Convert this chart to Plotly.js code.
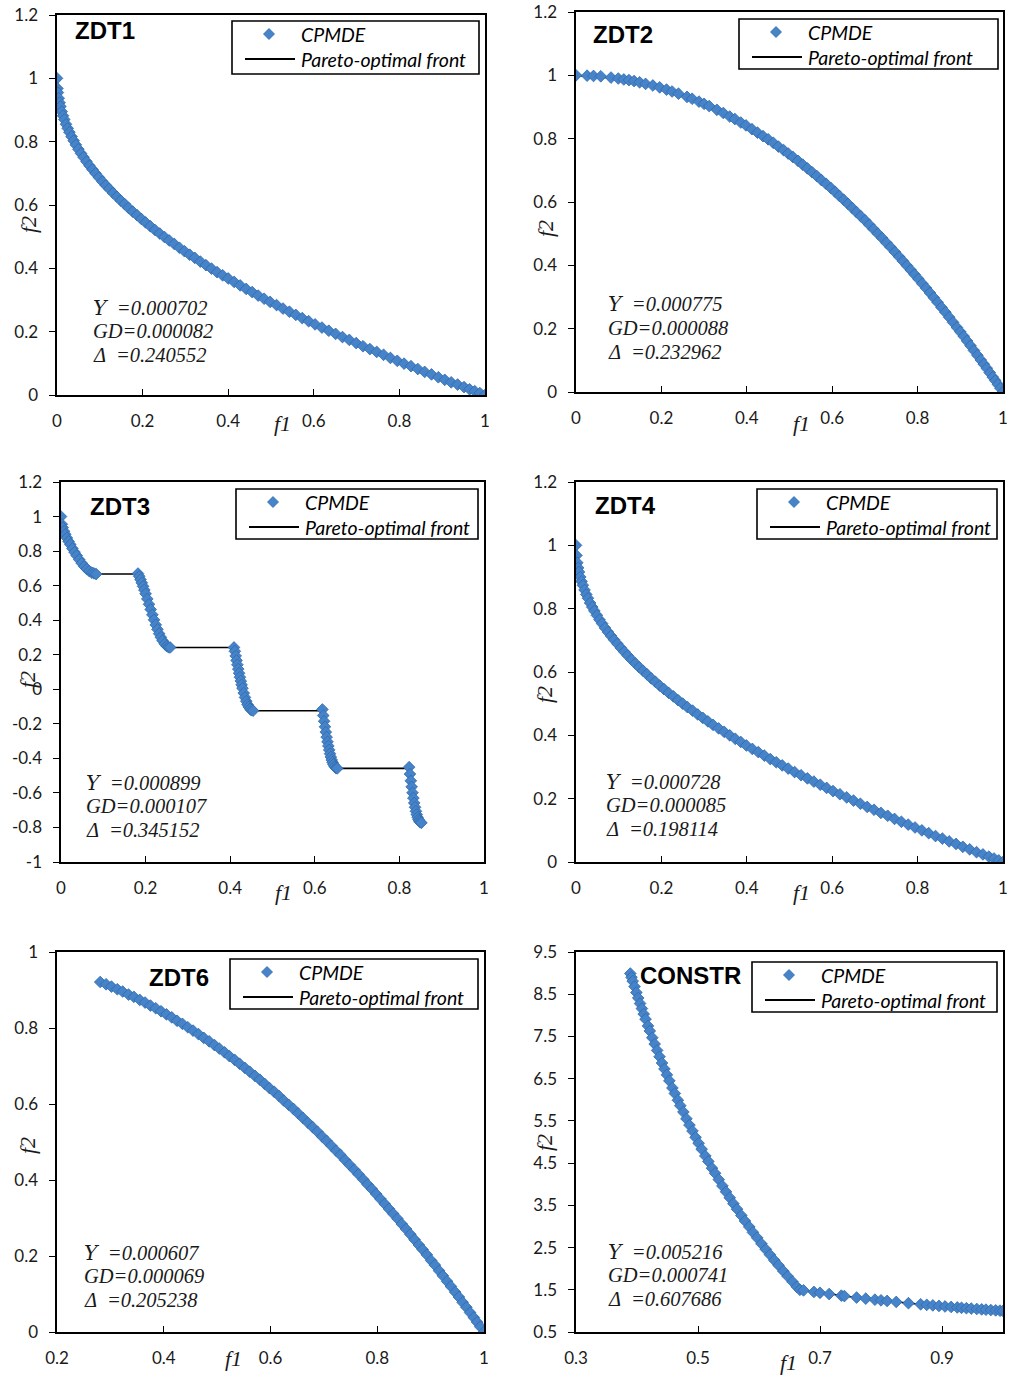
<!DOCTYPE html>
<html>
<head>
<meta charset="utf-8">
<script src="https://cdn.plot.ly/plotly-3.0.1.min.js"></script>
<style>html,body{margin:0;padding:0;background:#fff;}#chart{width:1010px;height:1376px;}</style>
</head>
<body>
<div id="chart"></div>
<script>
// ---------------- DATA ----------------
const panelNames = ["ZDT1", "ZDT2", "ZDT3", "ZDT4", "ZDT6", "CONSTR"];
const legendLabels = ["CPMDE", "Pareto-optimal front"];
const statsLabels = ['<span style="font-family:\'DejaVu Serif\'">Υ</span>  =', "GD=", "Δ  ="];
const statsText = [
  ["0.000702", "0.000082", "0.240552"],
  ["0.000775", "0.000088", "0.232962"],
  ["0.000899", "0.000107", "0.345152"],
  ["0.000728", "0.000085", "0.198114"],
  ["0.000607", "0.000069", "0.205238"],
  ["0.005216", "0.000741", "0.607686"]
];

// ZDT1
const zdt1_f1 = [0,0.001,0.002,0.004,0.006,0.008,0.011,0.014,0.017,0.021,0.025,0.029,0.034,0.039,0.044,0.05,0.056,0.062,0.069,0.076,0.083,0.09,0.098,0.106,0.114,0.122,0.131,0.14,0.149,0.158,0.167,0.177,0.187,0.197,0.207,0.218,0.229,0.24,0.251,0.262,0.274,0.286,0.298,0.31,0.322,0.335,0.348,0.361,0.374,0.387,0.4,0.414,0.428,0.442,0.456,0.47,0.484,0.498,0.513,0.528,0.543,0.558,0.573,0.588,0.603,0.619,0.635,0.651,0.667,0.683,0.699,0.715,0.731,0.747,0.763,0.779,0.795,0.811,0.827,0.843,0.859,0.875,0.891,0.906,0.921,0.936,0.951,0.964,0.976,0.988,1.0];
const zdt1_f2 = [1,0.968,0.955,0.937,0.923,0.911,0.895,0.882,0.870,0.855,0.842,0.830,0.816,0.803,0.790,0.776,0.763,0.751,0.737,0.724,0.712,0.700,0.687,0.674,0.662,0.651,0.638,0.626,0.614,0.603,0.591,0.579,0.568,0.556,0.545,0.533,0.521,0.510,0.499,0.488,0.477,0.465,0.454,0.443,0.433,0.421,0.410,0.399,0.388,0.378,0.368,0.357,0.346,0.335,0.325,0.314,0.304,0.294,0.284,0.273,0.263,0.253,0.243,0.233,0.223,0.213,0.203,0.193,0.183,0.174,0.164,0.154,0.145,0.136,0.127,0.117,0.108,0.099,0.091,0.082,0.073,0.065,0.056,0.048,0.040,0.033,0.025,0.018,0.012,0.006,0];
const zdt1_front_f1 = [0,0.005,0.02,0.05,0.1,0.15,0.2,0.3,0.4,0.5,0.6,0.7,0.8,0.9,1];
const zdt1_front_f2 = [1,0.929,0.859,0.776,0.684,0.613,0.553,0.452,0.368,0.293,0.225,0.163,0.106,0.051,0];

// ZDT2
const zdt2_f1 = [0,0.026,0.041,0.058,0.082,0.099,0.112,0.124,0.136,0.149,0.163,0.18,0.196,0.212,0.225,0.24,0.26,0.272,0.288,0.3,0.312,0.33,0.345,0.36,0.372,0.386,0.398,0.412,0.425,0.438,0.45,0.462,0.474,0.486,0.497,0.508,0.52,0.531,0.542,0.553,0.564,0.575,0.586,0.597,0.607,0.617,0.627,0.637,0.647,0.657,0.667,0.677,0.687,0.697,0.707,0.717,0.727,0.737,0.747,0.757,0.766,0.775,0.784,0.793,0.802,0.811,0.82,0.829,0.838,0.847,0.856,0.865,0.874,0.883,0.892,0.9,0.908,0.916,0.924,0.932,0.94,0.948,0.955,0.962,0.969,0.976,0.982,0.988,0.994,1.0];
const zdt2_f2 = [1,0.999,0.998,0.997,0.993,0.990,0.987,0.985,0.982,0.978,0.973,0.968,0.962,0.955,0.949,0.942,0.932,0.926,0.917,0.910,0.903,0.891,0.881,0.870,0.862,0.851,0.842,0.830,0.819,0.808,0.798,0.787,0.775,0.764,0.753,0.742,0.730,0.718,0.706,0.694,0.682,0.669,0.657,0.644,0.632,0.619,0.607,0.594,0.581,0.568,0.555,0.542,0.528,0.514,0.500,0.486,0.471,0.457,0.442,0.427,0.413,0.399,0.385,0.371,0.357,0.342,0.328,0.313,0.298,0.283,0.267,0.252,0.236,0.220,0.204,0.190,0.176,0.161,0.146,0.131,0.116,0.101,0.088,0.075,0.061,0.047,0.036,0.024,0.012,0];
const zdt2_front_f1 = [0,0.1,0.2,0.3,0.4,0.5,0.6,0.7,0.8,0.9,1];
const zdt2_front_f2 = [1,0.99,0.96,0.91,0.84,0.75,0.64,0.51,0.36,0.19,0];

// ZDT3
const zdt3_f1 = [0,0.002,0.004,0.007,0.010,0.014,0.018,0.022,0.027,0.032,0.037,0.043,0.049,0.055,0.061,0.067,0.073,0.078,0.083,
  0.182,0.185,0.188,0.191,0.194,0.197,0.200,0.204,0.208,0.212,0.216,0.220,0.224,0.228,0.232,0.236,0.240,0.245,0.250,0.254,0.258,
  0.409,0.411,0.413,0.415,0.417,0.419,0.421,0.423,0.425,0.427,0.429,0.432,0.435,0.438,0.441,0.444,0.447,0.450,0.454,
  0.618,0.620,0.622,0.624,0.626,0.628,0.630,0.632,0.634,0.636,0.638,0.640,0.642,0.644,0.647,0.650,0.653,
  0.823,0.825,0.827,0.829,0.831,0.833,0.835,0.837,0.839,0.841,0.843,0.845,0.847,0.849,0.852];
const zdt3_f2 = [1,0.955,0.936,0.915,0.897,0.876,0.856,0.838,0.815,0.794,0.774,0.751,0.730,0.711,0.696,0.684,0.675,0.671,0.667,
  0.670,0.654,0.635,0.616,0.596,0.575,0.553,0.523,0.492,0.462,0.431,0.402,0.373,0.347,0.322,0.301,0.282,0.263,0.250,0.244,0.242,
  0.242,0.220,0.193,0.167,0.142,0.117,0.093,0.070,0.048,0.026,0.006,-0.022,-0.047,-0.069,-0.088,-0.102,-0.113,-0.121,-0.124,
  -0.117,-0.152,-0.185,-0.217,-0.248,-0.277,-0.304,-0.328,-0.351,-0.373,-0.392,-0.409,-0.423,-0.435,-0.448,-0.456,-0.458,
  -0.451,-0.491,-0.530,-0.565,-0.599,-0.630,-0.658,-0.683,-0.706,-0.725,-0.741,-0.754,-0.763,-0.770,-0.773];
const zdt3_front_f1 = [0,0.01,0.03,0.05,0.07,0.083,0.182,0.2,0.22,0.24,0.258,0.409,0.42,0.43,0.44,0.454,0.618,0.63,0.64,0.653,0.823,0.83,0.84,0.852];
const zdt3_front_f2 = [1,0.897,0.802,0.726,0.679,0.667,0.667,0.553,0.402,0.282,0.242,0.242,0.105,-0.004,-0.082,-0.124,-0.124,-0.304,-0.409,-0.458,-0.458,-0.582,-0.716,-0.773];
const zdt3_yticks = [-1,-0.8,-0.6,-0.4,-0.2,0,0.2,0.4,0.6,0.8,1,1.2];
const zdt3_yticktext = ["-1","-0.8","-0.6","-0.4","-0.2","0","0.2","0.4","0.6","0.8","1","1.2"];

// ZDT4
const zdt4_f1 = [0,0.001,0.003,0.005,0.007,0.01,0.013,0.016,0.02,0.024,0.028,0.033,0.038,0.043,0.049,0.055,0.061,0.068,0.075,0.082,0.089,0.097,0.105,0.113,0.121,0.13,0.139,0.148,0.157,0.166,0.176,0.186,0.196,0.206,0.217,0.228,0.239,0.25,0.261,0.273,0.285,0.297,0.309,0.321,0.334,0.347,0.36,0.373,0.386,0.399,0.413,0.427,0.441,0.455,0.469,0.483,0.497,0.512,0.527,0.542,0.557,0.572,0.587,0.602,0.618,0.634,0.65,0.666,0.682,0.698,0.714,0.73,0.746,0.762,0.778,0.794,0.81,0.826,0.842,0.858,0.874,0.89,0.906,0.922,0.938,0.953,0.967,0.979,0.99,1.0];
const zdt4_f2 = [1,0.968,0.945,0.929,0.916,0.9,0.886,0.874,0.859,0.845,0.833,0.818,0.805,0.793,0.779,0.765,0.753,0.739,0.726,0.714,0.702,0.689,0.676,0.664,0.652,0.639,0.627,0.615,0.604,0.593,0.580,0.569,0.557,0.546,0.534,0.523,0.511,0.5,0.489,0.478,0.466,0.455,0.444,0.433,0.422,0.411,0.4,0.389,0.379,0.368,0.357,0.347,0.336,0.325,0.315,0.305,0.295,0.284,0.274,0.264,0.254,0.244,0.234,0.224,0.214,0.204,0.194,0.184,0.174,0.165,0.155,0.146,0.136,0.127,0.118,0.109,0.100,0.091,0.082,0.074,0.065,0.057,0.048,0.040,0.031,0.024,0.017,0.011,0.005,0];
const zdt4_front_f1 = [0,0.005,0.02,0.05,0.1,0.15,0.2,0.3,0.4,0.5,0.6,0.7,0.8,0.9,1];
const zdt4_front_f2 = [1,0.929,0.859,0.776,0.684,0.613,0.553,0.452,0.368,0.293,0.225,0.163,0.106,0.051,0];

// ZDT6
const zdt6_f1 = [0.281,0.292,0.302,0.313,0.323,0.334,0.344,0.355,0.365,0.375,0.385,0.395,0.405,0.415,0.425,0.435,0.445,0.455,0.465,0.475,0.485,0.495,0.504,0.514,0.523,0.533,0.542,0.552,0.561,0.571,0.580,0.589,0.598,0.607,0.616,0.625,0.634,0.643,0.652,0.661,0.670,0.679,0.688,0.697,0.705,0.714,0.723,0.731,0.740,0.748,0.757,0.765,0.774,0.782,0.790,0.798,0.806,0.814,0.822,0.830,0.838,0.846,0.854,0.862,0.870,0.878,0.885,0.893,0.901,0.908,0.916,0.923,0.931,0.938,0.946,0.953,0.960,0.967,0.974,0.981,0.987,0.993,1.0];
const zdt6_f2 = [0.921,0.915,0.909,0.902,0.896,0.888,0.882,0.874,0.867,0.859,0.852,0.844,0.836,0.828,0.819,0.811,0.802,0.793,0.784,0.774,0.765,0.755,0.746,0.736,0.726,0.716,0.706,0.695,0.685,0.674,0.664,0.653,0.642,0.632,0.621,0.609,0.598,0.587,0.575,0.563,0.551,0.539,0.527,0.514,0.503,0.490,0.477,0.466,0.452,0.440,0.427,0.415,0.401,0.388,0.376,0.363,0.350,0.337,0.324,0.311,0.298,0.284,0.271,0.257,0.243,0.229,0.217,0.203,0.188,0.176,0.161,0.148,0.133,0.120,0.105,0.092,0.078,0.065,0.051,0.038,0.026,0.014,0];
const zdt6_front_f1 = [0.281,0.3,0.4,0.5,0.6,0.7,0.8,0.9,1];
const zdt6_front_f2 = [0.921,0.91,0.84,0.75,0.64,0.51,0.36,0.19,0];

// CONSTR
const constr_f1 = [0.389,0.391,0.393,0.396,0.399,0.402,0.405,0.408,0.411,0.414,0.418,0.421,0.425,0.429,0.433,0.437,0.441,0.445,0.449,0.453,0.458,0.462,0.467,0.471,0.476,0.481,0.486,0.491,0.496,0.501,0.506,0.512,0.517,0.523,0.528,0.534,0.540,0.546,0.552,0.558,0.564,0.571,0.577,0.584,0.590,0.597,0.604,0.611,0.618,0.625,0.632,0.640,0.647,0.655,0.662,0.667,
  0.673,0.69,0.70,0.715,0.735,0.74,0.76,0.775,0.79,0.80,0.81,0.825,0.845,0.865,0.875,0.885,0.895,0.905,0.915,0.925,0.932,0.94,0.948,0.957,0.965,0.972,0.98,0.988,0.995,1.0];
const constr_f2 = [8.99,8.90,8.81,8.68,8.54,8.41,8.28,8.16,8.03,7.91,7.75,7.63,7.47,7.32,7.17,7.02,6.87,6.73,6.59,6.45,6.28,6.15,5.99,5.86,5.71,5.55,5.40,5.26,5.11,4.97,4.83,4.67,4.54,4.38,4.26,4.11,3.96,3.82,3.68,3.54,3.41,3.26,3.13,2.99,2.86,2.73,2.59,2.46,2.33,2.20,2.08,1.94,1.82,1.69,1.57,1.50,
  1.486,1.449,1.429,1.399,1.361,1.351,1.316,1.290,1.266,1.25,1.235,1.212,1.183,1.156,1.143,1.130,1.117,1.105,1.093,1.081,1.073,1.064,1.055,1.045,1.036,1.029,1.020,1.012,1.005,1.0];
const constr_front_f1 = [0.389,0.42,0.45,0.5,0.55,0.6,0.667,0.75,0.85,1.0];
const constr_front_f2 = [8.99,7.67,6.56,5.0,3.73,2.67,1.5,1.333,1.176,1.0];

// ---------------- STYLE / LAYOUT ----------------
const W = 1010, H = 1376;
const px2x = p => p / W, px2y = p => 1 - p / H;
const markerFill = '#4683c8', markerEdge = '#2f6aac';
const tickFont = {family: 'Lato, "Open Sans", sans-serif', size: 17, color: '#1a1a1a'};
const serifItalic = {family: '"Liberation Serif", "DejaVu Serif", serif', size: 20.5, color: '#1a1a1a', style: 'italic'};
const legendFont = {family: 'Lato, "Open Sans", sans-serif', size: 19.5, color: '#000', style: 'italic'};

// pixel boxes of the plot areas [left, right, top, bottom]
const boxes = [
  [57, 485, 15, 395],
  [576, 1003, 12, 392],
  [61, 484, 482, 862],
  [576, 1003, 482, 862],
  [57, 484, 952, 1332],
  [576, 1003, 952, 1332]
];
const ranges = [
  {x: [0, 1], y: [0, 1.2], xd: 0.2, yd: 0.2},
  {x: [0, 1], y: [0, 1.2], xd: 0.2, yd: 0.2},
  {x: [0, 1], y: [-1, 1.2], xd: 0.2, yd: 0.2},
  {x: [0, 1], y: [0, 1.2], xd: 0.2, yd: 0.2},
  {x: [0.2, 1], y: [0, 1], xd: 0.2, yd: 0.2},
  {x: [0.3, 1.0], y: [0.5, 9.5], xd: 0.2, yd: 1, x0: 0.3, y0: 0.5}
];
// legend boxes in pixels [left, top, right, bottom]
const legendBoxes = [[232, 21, 479, 74], [739, 19, 998, 69], [236, 489, 478, 539], [757, 489, 997, 539], [230, 959, 478, 1009], [752, 962, 997, 1012]];
// panel title positions (pixels: left x, center y)
const titlePos = [[73, 31], [591, 34], [88, 507], [593, 505], [147, 977], [638, 975]];
// statistics block (pixels: left x, center y of middle line)
const statsPos = [[91, 331], [606, 328], [84, 806], [604, 805], [82, 1276], [606, 1275]];
const statsGap = 23.5;
const f1Pos = [[282, 423], [801, 423], [283, 892], [801, 892], [233, 1358], [788, 1362]];
const f2Pos = [[28, 225], [545, 229], [27, 680], [545, 695], [27, 1146], [544, 1143]];

const dataSets = [
  [zdt1_f1, zdt1_f2, zdt1_front_f1, zdt1_front_f2],
  [zdt2_f1, zdt2_f2, zdt2_front_f1, zdt2_front_f2],
  [zdt3_f1, zdt3_f2, zdt3_front_f1, zdt3_front_f2],
  [zdt4_f1, zdt4_f2, zdt4_front_f1, zdt4_front_f2],
  [zdt6_f1, zdt6_f2, zdt6_front_f1, zdt6_front_f2],
  [constr_f1, constr_f2, constr_front_f1, constr_front_f2]
];

const traces = [];
const layout = {
  width: W, height: H,
  margin: {l: 0, r: 0, t: 0, b: 0},
  paper_bgcolor: '#ffffff', plot_bgcolor: '#ffffff',
  showlegend: false,
  annotations: [],
  shapes: [],
  font: tickFont
};

function ann(x, y, text, font, extra) {
  layout.annotations.push(Object.assign({
    xref: 'paper', yref: 'paper', x: px2x(x), y: px2y(y), text: text, showarrow: false, font: font
  }, extra || {}));
}

for (let i = 0; i < 6; i++) {
  const n = i === 0 ? '' : String(i + 1);
  const xa = 'x' + n, ya = 'y' + n;
  const [px, py, fx, fy] = dataSets[i];
  traces.push({
    type: 'scatter', mode: 'lines', x: fx, y: fy, xaxis: xa, yaxis: ya,
    name: legendLabels[1], line: {color: '#000000', width: 1.6}, hoverinfo: 'skip'
  });
  traces.push({
    type: 'scatter', mode: 'markers', x: px, y: py, xaxis: xa, yaxis: ya,
    name: legendLabels[0],
    marker: {symbol: 'diamond', size: 9, color: markerFill, line: {color: markerEdge, width: 0.8}},
    hoverinfo: 'skip'
  });

  const b = boxes[i], r = ranges[i];
  const xAxis = {
    domain: [b[0] / W, b[1] / W], range: r.x, anchor: ya,
    tickmode: 'linear', tick0: r.x0 !== undefined ? r.x0 : r.x[0], dtick: r.xd,
    showline: true, mirror: true, linecolor: '#000', linewidth: 1.6,
    ticks: 'inside', ticklen: 6, tickcolor: '#000', tickwidth: 1,
    showgrid: false, zeroline: false, tickfont: tickFont, ticklabelstandoff: 10
  };
  const yAxis = {
    domain: [1 - b[3] / H, 1 - b[2] / H], range: r.y, anchor: xa,
    tickmode: 'linear', tick0: r.y0 !== undefined ? r.y0 : r.y[0], dtick: r.yd,
    showline: true, mirror: true, linecolor: '#000', linewidth: 1.6,
    ticks: 'outside', ticklen: 6, tickcolor: '#000', tickwidth: 1,
    showgrid: false, zeroline: false, tickfont: tickFont, ticklabelstandoff: 8
  };
  if (i === 2) { yAxis.tickmode = 'array'; yAxis.tickvals = zdt3_yticks; yAxis.ticktext = zdt3_yticktext; }
  layout['xaxis' + n] = xAxis;
  layout['yaxis' + n] = yAxis;

  // legend box (drawn as layout decoration)
  const [L, T, R, B] = legendBoxes[i];
  const r1 = T + 13, r2 = T + 38;
  layout.shapes.push({type: 'rect', xref: 'paper', yref: 'paper', x0: px2x(L), x1: px2x(R), y0: px2y(B), y1: px2y(T),
    line: {color: '#000', width: 1.6}, fillcolor: '#ffffff', layer: 'above'});
  const dx = L + 37, dr = 5.5;
  layout.shapes.push({type: 'path', xref: 'paper', yref: 'paper', layer: 'above',
    path: 'M ' + px2x(dx) + ',' + px2y(r1 - dr) + ' L ' + px2x(dx + dr) + ',' + px2y(r1) + ' L ' + px2x(dx) + ',' + px2y(r1 + dr) + ' L ' + px2x(dx - dr) + ',' + px2y(r1) + ' Z',
    fillcolor: markerFill, line: {color: markerEdge, width: 0.8}});
  layout.shapes.push({type: 'line', xref: 'paper', yref: 'paper', layer: 'above',
    x0: px2x(L + 13), x1: px2x(L + 63), y0: px2y(r2), y1: px2y(r2), line: {color: '#000', width: 2}});
  ann(L + 67, r1, legendLabels[0], legendFont, {xanchor: 'left', yanchor: 'middle'});
  ann(L + 67, r2, legendLabels[1], legendFont, {xanchor: 'left', yanchor: 'middle'});

  // panel title
  ann(titlePos[i][0], titlePos[i][1], '<b>' + panelNames[i] + '</b>',
    {family: '"Liberation Sans", Arial, sans-serif', size: 24, color: '#000'}, {xanchor: 'left', yanchor: 'middle'});
  // statistics
  for (let k = 0; k < 3; k++) {
    ann(statsPos[i][0], statsPos[i][1] + (k - 1) * statsGap, statsLabels[k] + statsText[i][k], serifItalic,
      {xanchor: 'left', yanchor: 'middle'});
  }
  // axis titles
  ann(f1Pos[i][0], f1Pos[i][1], 'f1', Object.assign({}, serifItalic, {size: 22}), {xanchor: 'center', yanchor: 'middle'});
  ann(f2Pos[i][0], f2Pos[i][1], 'f2', Object.assign({}, serifItalic, {size: 22}), {xanchor: 'center', yanchor: 'middle', textangle: -90});
}

Plotly.newPlot('chart', traces, layout, {staticPlot: true, displayModeBar: false});
</script>
</body>
</html>
